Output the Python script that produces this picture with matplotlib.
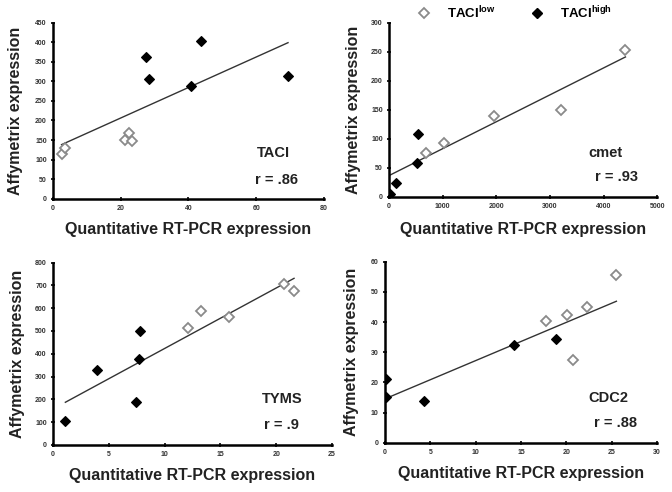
import numpy as np
import matplotlib
matplotlib.use("Agg")
import matplotlib.pyplot as plt
from matplotlib.lines import Line2D

plt.rcParams["font.family"] = ["Liberation Sans", "DejaVu Sans"]
plt.rcParams["mathtext.fontset"] = "custom"
plt.rcParams["mathtext.bf"] = "Liberation Sans:bold"
plt.rcParams["mathtext.rm"] = "Liberation Sans:bold"

# values: (low group, high group) per gene
taci_low_x = [2.5, 3.6, 21.2, 22.3, 23.3]
taci_low_y = [114, 130, 149, 168, 148]
taci_high_x = [27.3, 28.2, 40.7, 43.6, 69.4]
taci_high_y = [363, 306, 289, 404, 313]

cmet_low_x = [685, 1015, 1961, 3200, 4408]
cmet_low_y = [76, 93, 140, 149, 253]
cmet_high_x = [10, 125, 517, 542]
cmet_high_y = [4, 24, 59, 109]

tyms_low_x = [12.1, 13.3, 15.8, 20.7, 21.6]
tyms_low_y = [515, 587, 561, 706, 674]
tyms_high_x = [1.1, 3.9, 7.4, 7.7, 7.8]
tyms_high_y = [103, 327, 188, 376, 498]

cdc2_low_x = [17.7, 20.1, 20.7, 22.3, 25.5]
cdc2_low_y = [40.4, 42.5, 27.4, 45.1, 55.6]
cdc2_high_x = [0.1, 0.1, 4.3, 14.2, 18.8]
cdc2_high_y = [21.3, 15.2, 13.7, 32.4, 34.5]

genes = ["TACI", "cmet", "TYMS", "CDC2"]
r_labels = ["r = .86", "r = .93", "r = .9", "r = .88"]
x_ticks = [np.arange(0, 81, 20), np.arange(0, 5001, 1000), np.arange(0, 26, 5), np.arange(0, 31, 5)]
y_ticks = [np.arange(0, 451, 50), np.arange(0, 301, 50), np.arange(0, 801, 100), np.arange(0, 61, 10)]

panels = [
    (taci_low_x, taci_low_y, taci_high_x, taci_high_y),
    (cmet_low_x, cmet_low_y, cmet_high_x, cmet_high_y),
    (tyms_low_x, tyms_low_y, tyms_high_x, tyms_high_y),
    (cdc2_low_x, cdc2_low_y, cdc2_high_x, cdc2_high_y),
]

# axes rectangles in figure fraction, and label/annotation spots in axes fraction
rects = [
    [0.079, 0.596, 0.403, 0.358],
    [0.579, 0.600, 0.399, 0.354],
    [0.079, 0.096, 0.415, 0.370],
    [0.573, 0.100, 0.405, 0.368],
]
ylab_x = [-0.137, -0.134, -0.129, -0.125]
xlab_y = [-0.176, -0.19, -0.17, -0.171]
gene_pos = [(0.815, 0.26), (0.806, 0.253), (0.82, 0.253), (0.82, 0.249)]
r_pos = [(0.826, 0.108), (0.85, 0.115), (0.82, 0.11), (0.845, 0.11)]

fig = plt.figure(figsize=(6.72, 4.92), dpi=100)

for i, (lx, ly, hx, hy) in enumerate(panels):
    ax = fig.add_axes(rects[i])
    ax.plot(lx, ly, "D", ms=5.3, mfc="white", mec="#8a8a8a", mew=1.3, zorder=3)
    ax.plot(hx, hy, "D", ms=5.3, mfc="black", mec="black", mew=0.8, zorder=3)

    xs = np.array(lx + hx, dtype=float)
    ys = np.array(ly + hy, dtype=float)
    slope, icpt = np.polyfit(xs, ys, 1)
    xl = np.array([xs.min(), xs.max()])
    ax.plot(xl, slope * xl + icpt, color="#333333", lw=1.0, zorder=2)

    ax.set_xlim(x_ticks[i][0], x_ticks[i][-1])
    ax.set_ylim(y_ticks[i][0], y_ticks[i][-1])
    ax.set_xticks(x_ticks[i])
    ax.set_yticks(y_ticks[i])
    ax.tick_params(direction="inout", length=3, width=1.2, labelsize=5,
                   labelcolor="#333333", pad=3)
    for lab in ax.get_xticklabels() + ax.get_yticklabels():
        lab.set_fontweight("bold")
    for side in ["top", "right"]:
        ax.spines[side].set_visible(False)
    for side in ["left", "bottom"]:
        ax.spines[side].set_linewidth(1.8)

    ax.set_ylabel("Affymetrix expression", fontsize=11.5, fontweight="bold", color="#222222")
    ax.set_xlabel("Quantitative RT-PCR expression", fontsize=11.5, fontweight="bold", color="#222222")
    ax.yaxis.set_label_coords(ylab_x[i], 0.5)
    ax.xaxis.set_label_coords(0.5, xlab_y[i])
    ax.xaxis.label.set_va("center")
    ax.yaxis.label.set_va("center")

    ax.text(*gene_pos[i], genes[i], transform=ax.transAxes, ha="center", va="center",
            fontsize=10.5, fontweight="bold", color="#222222")
    ax.text(*r_pos[i], r_labels[i], transform=ax.transAxes, ha="center", va="center",
            fontsize=10.5, fontweight="bold", color="#222222")

handles = [
    Line2D([], [], ls="none", marker="D", ms=5.3, mfc="white", mec="#8a8a8a", mew=1.3),
    Line2D([], [], ls="none", marker="D", ms=5.3, mfc="black", mec="black"),
]
fig.legend(handles, [r"TACI$^{\mathbf{low}}$", r"TACI$^{\mathbf{high}}$"],
           loc="center", bbox_to_anchor=(0.766, 0.974), ncol=2, frameon=False,
           prop={"size": 9.5, "weight": "bold"}, handletextpad=1.3, columnspacing=2.6,
           handlelength=1.0)

fig.savefig("out.png", dpi=100)
